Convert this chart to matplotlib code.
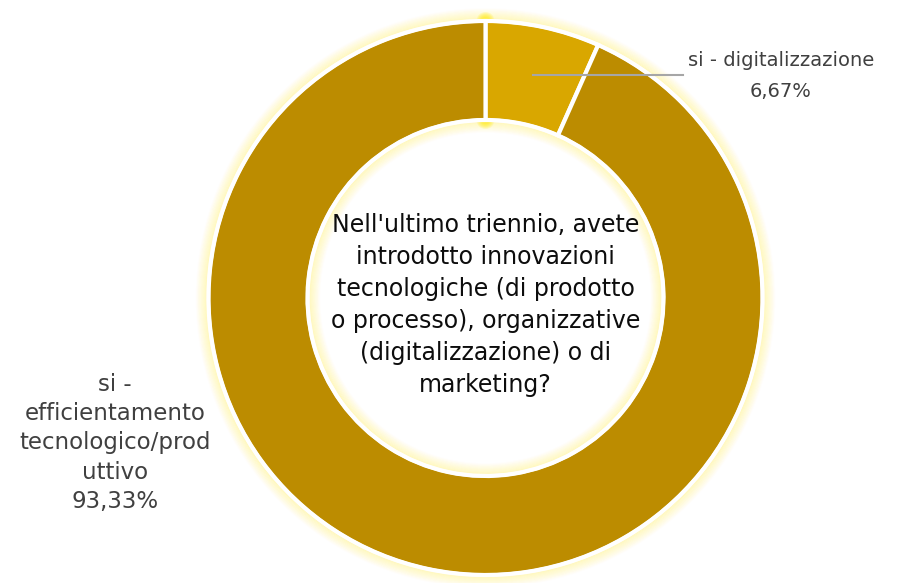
import numpy as np
import matplotlib
matplotlib.use("Agg")
import matplotlib.pyplot as plt
from matplotlib.patches import Circle

plt.rcParams['font.family'] = ['DejaVu Sans']

# dati
categorie = ["si - digitalizzazione", "si -\nefficientamento\ntecnologico/prod\nuttivo"]
valori = [6.67, 93.33]
etichette_pct = ["6,67%", "93,33%"]
colori = ["#D9A700", "#BC8C00"]
titolo = ("Nell'ultimo triennio, avete\nintrodotto innovazioni\ntecnologiche (di prodotto\n"
          "o processo), organizzative\n(digitalizzazione) o di\nmarketing?")

W, H = 903, 583
fig = plt.figure(figsize=(W / 100, H / 100), dpi=100)
ax = fig.add_axes([0, 0, 1, 1])

cx, cy = 485.5, H - 298
r_out, r_in = 277, 178

# alone giallo esterno e interno
for k in range(12):
    a = 0.2 * (1 - k / 12)
    ax.add_patch(Circle((cx, cy), r_out + 1 + k, fill=False, lw=1.2,
                        ec="#FFEA20", alpha=a, zorder=1))
    ax.add_patch(Circle((cx, cy), r_in - 1 - k, fill=False, lw=1.2,
                        ec="#FFEA20", alpha=a, zorder=1))

wedges, _ = ax.pie(valori, colors=colori, startangle=90, counterclock=False,
                   radius=r_out, center=(cx, cy), frame=True,
                   wedgeprops=dict(width=r_out - r_in, edgecolor="white", linewidth=3))
for w in wedges:
    w.set_zorder(2)
ax.set_xlim(0, W)
ax.set_ylim(0, H)
ax.set_aspect('equal')
ax.axis('off')

# bordo bianco esterno/interno
ax.add_patch(Circle((cx, cy), r_out, fill=False, lw=2.5, ec="white", zorder=3))
ax.add_patch(Circle((cx, cy), r_in, fill=False, lw=2.5, ec="white", zorder=3))

# punti luminosi alle estremita' del separatore superiore
for rr in (r_out, r_in):
    for k in range(8):
        ax.add_patch(Circle((cx, cy + rr), 9 - k, color="#FFEA00", alpha=0.15,
                            lw=0, zorder=1.5))

# etichetta piccola con linea guida
w0 = wedges[0]
ang = np.deg2rad((w0.theta1 + w0.theta2) / 2)
rm = (r_out + r_in) / 2
p0 = (cx + rm * np.cos(ang), cy + rm * np.sin(ang))
ax.plot([p0[0], 683], [p0[1], p0[1]], color="#A6A6A6", lw=1.5, zorder=4)
ax.text(781, H - 76, categorie[0] + "\n" + etichette_pct[0], ha="center", va="center",
        fontsize=14, color="#404040", linespacing=1.8, zorder=5)

# etichetta grande
ax.text(115, H - 443, categorie[1] + "\n" + etichette_pct[1], ha="center", va="center",
        fontsize=16.5, color="#404040", linespacing=1.36, zorder=5)

# testo centrale
ax.text(cx, H - 305, titolo, ha="center", va="center", fontsize=17,
        color="#0D0D0D", linespacing=1.43, zorder=5)

fig.savefig("out.png", dpi=100)
